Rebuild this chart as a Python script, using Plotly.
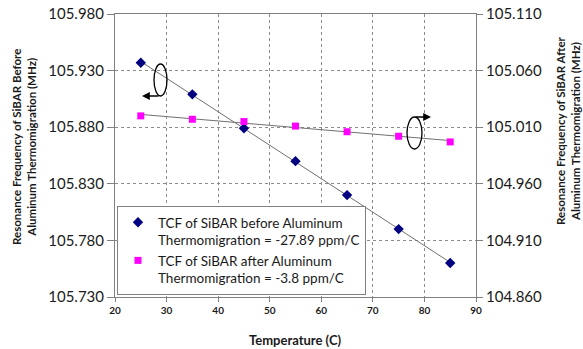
import numpy as np
import plotly.graph_objects as go

temperature = [25, 35, 45, 55, 65, 75, 85]
freq_before = [105.937, 105.909, 105.879, 105.850, 105.820, 105.790, 105.760]
freq_after = [105.020, 105.017, 105.015, 105.011, 105.006, 105.002, 104.997]

label_before = "TCF of SiBAR before Aluminum<br>Thermomigration = -27.89 ppm/C"
label_after = "TCF of SiBAR after Aluminum<br>Thermomigration = -3.8 ppm/C"

left_title = "Resonance Frequency of SiBAR Before<br>Aluminum Thermomigration (MHz)"
right_title = "Resonance Frequency of SiBAR After<br>Aluminum Thermomigration (MHz)"
x_title = "Temperature (C)"

FONT = "Lato, 'Open Sans', sans-serif"
x = np.array(temperature, dtype=float)
fit_b = np.polyval(np.polyfit(x, freq_before, 1), x)
fit_a = np.polyval(np.polyfit(x, freq_after, 1), x)

fig = go.Figure()
fig.add_trace(go.Scatter(x=temperature, y=fit_b, mode="lines",
                         line=dict(color="#707070", width=1), showlegend=False, hoverinfo="skip"))
fig.add_trace(go.Scatter(x=temperature, y=fit_a, mode="lines", yaxis="y2",
                         line=dict(color="#707070", width=1), showlegend=False, hoverinfo="skip"))
fig.add_trace(go.Scatter(x=temperature, y=freq_before, mode="markers", name=label_before,
                         marker=dict(symbol="diamond", size=8, color="#000080")))
fig.add_trace(go.Scatter(x=temperature, y=freq_after, mode="markers", name=label_after, yaxis="y2",
                         marker=dict(symbol="square", size=7, color="#FF00FF")))

L, R, T, B = 115, 476, 14, 297
W, H = 583, 349


def px(v):
    return (v - L) / (R - L)


def py(v):
    return (B - v) / (B - T)


fig.update_layout(
    width=W, height=H,
    margin=dict(l=L, r=W - R, t=T, b=H - B, autoexpand=False),
    paper_bgcolor="white", plot_bgcolor="white",
    font=dict(family=FONT, color="#1a1a1a"),
    xaxis=dict(range=[20, 90], dtick=10, tick0=20, showgrid=True, gridcolor="#8c8c8c", griddash="dot",
               gridwidth=1, showline=True, linecolor="#808080", linewidth=1, mirror=True,
               ticks="outside", ticklen=4, tickcolor="#808080", zeroline=False, automargin=False,
               tickfont=dict(size=10, family=FONT, color="#1a1a1a", weight="bold")),
    yaxis=dict(range=[105.730, 105.980], dtick=0.05, tick0=105.730, tickformat=".3f", showgrid=True,
               gridcolor="#8c8c8c", griddash="dot", gridwidth=1, showline=True,
               linecolor="#808080", linewidth=1, ticks="outside", ticklen=7, automargin=False,
               tickcolor="#808080", zeroline=False, tickfont=dict(size=15, family=FONT)),
    yaxis2=dict(range=[104.860, 105.110], dtick=0.05, tick0=104.860, tickformat=".3f", overlaying="y",
                side="right", showgrid=False, showline=True, linecolor="#808080", linewidth=1,
                ticks="outside", ticklen=6, tickcolor="#808080", zeroline=False, automargin=False,
                tickfont=dict(size=15, family=FONT)),
    legend=dict(x=px(117), y=py(295), xanchor="left", yanchor="bottom",
                bgcolor="white", bordercolor="#808080", borderwidth=1,
                font=dict(size=13.5, family=FONT), valign="top", tracegroupgap=2,
                itemwidth=30),
    showlegend=True,
)

fig.add_annotation(text=left_title, xref="paper", yref="paper", x=px(24), y=py(147),
                   textangle=-90, showarrow=False, font=dict(size=11.5, family=FONT, weight="bold"),
                   xanchor="center", yanchor="middle")
fig.add_annotation(text=right_title, xref="paper", yref="paper", x=px(568), y=py(131),
                   textangle=-90, showarrow=False, font=dict(size=11.5, family=FONT, weight="bold"),
                   xanchor="center", yanchor="middle")
fig.add_annotation(text=x_title, xref="paper", yref="paper", x=px(295), y=py(340),
                   showarrow=False, font=dict(size=13, family=FONT, weight="bold"),
                   xanchor="center", yanchor="middle")

# ellipses with arrows
fig.add_shape(type="circle", xref="paper", yref="paper", x0=px(154), x1=px(167),
              y0=py(96), y1=py(64), line=dict(color="black", width=1.3))
fig.add_annotation(xref="paper", yref="paper", x=px(142), y=py(96), ax=18, ay=0, text="",
                   showarrow=True, arrowhead=2, arrowsize=1.2, arrowwidth=1.3, arrowcolor="black")
fig.add_shape(type="circle", xref="paper", yref="paper", x0=px(407), x1=px(422),
              y0=py(149), y1=py(117), line=dict(color="black", width=1.3))
fig.add_annotation(xref="paper", yref="paper", x=px(431), y=py(117), ax=-17, ay=0, text="",
                   showarrow=True, arrowhead=2, arrowsize=1.2, arrowwidth=1.3, arrowcolor="black")

fig.write_html("out.html", config={"displayModeBar": False},
               post_script="document.body.style.margin='0px';document.body.style.overflow='hidden';")
